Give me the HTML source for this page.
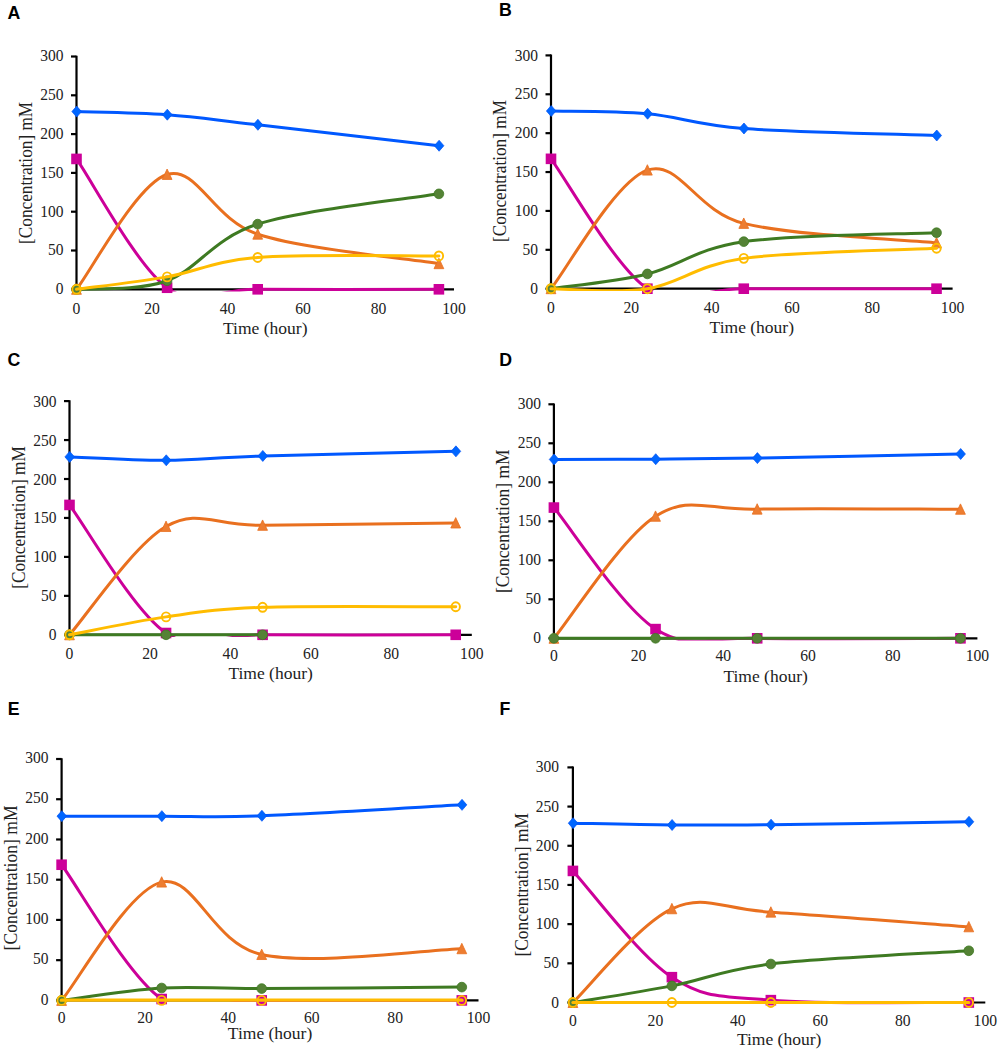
<!DOCTYPE html><html><head><meta charset="utf-8"><style>html,body{margin:0;padding:0;background:#fff;width:1000px;height:1053px;overflow:hidden}svg{display:block}.t{font-family:"Liberation Serif",serif;fill:#222}.L{font-family:"Liberation Sans",sans-serif;font-weight:bold;font-size:18.5px;fill:#000}</style></head><body>
<svg width="1000" height="1053" viewBox="0 0 1000 1053">
<g><text class="L" transform="translate(7.40,18.60) scale(0.96,1.03)">A</text><path d="M76.50,55.70 V289.30 H454.00" fill="none" stroke="#000" stroke-width="2.2"/><path d="M71.00,289.30 H76.50" stroke="#000" stroke-width="2.2"/><text class="t" font-size="16.5" text-anchor="end" transform="translate(63.50,294.20) scale(0.94,1)">0</text><path d="M71.00,250.50 H76.50" stroke="#000" stroke-width="2.2"/><text class="t" font-size="16.5" text-anchor="end" transform="translate(63.50,255.40) scale(0.94,1)">50</text><path d="M71.00,211.70 H76.50" stroke="#000" stroke-width="2.2"/><text class="t" font-size="16.5" text-anchor="end" transform="translate(63.50,216.60) scale(0.94,1)">100</text><path d="M71.00,172.90 H76.50" stroke="#000" stroke-width="2.2"/><text class="t" font-size="16.5" text-anchor="end" transform="translate(63.50,177.80) scale(0.94,1)">150</text><path d="M71.00,134.10 H76.50" stroke="#000" stroke-width="2.2"/><text class="t" font-size="16.5" text-anchor="end" transform="translate(63.50,139.00) scale(0.94,1)">200</text><path d="M71.00,95.30 H76.50" stroke="#000" stroke-width="2.2"/><text class="t" font-size="16.5" text-anchor="end" transform="translate(63.50,100.20) scale(0.94,1)">250</text><path d="M71.00,56.50 H76.50" stroke="#000" stroke-width="2.2"/><text class="t" font-size="16.5" text-anchor="end" transform="translate(63.50,61.40) scale(0.94,1)">300</text><text class="t" font-size="16.5" text-anchor="middle" transform="translate(76.50,313.50) scale(0.95,1)">0</text><text class="t" font-size="16.5" text-anchor="middle" transform="translate(152.00,313.50) scale(0.95,1)">20</text><text class="t" font-size="16.5" text-anchor="middle" transform="translate(227.50,313.50) scale(0.95,1)">40</text><text class="t" font-size="16.5" text-anchor="middle" transform="translate(303.00,313.50) scale(0.95,1)">60</text><text class="t" font-size="16.5" text-anchor="middle" transform="translate(378.50,313.50) scale(0.95,1)">80</text><text class="t" font-size="16.5" text-anchor="middle" transform="translate(454.00,313.50) scale(0.95,1)">100</text><text class="t" font-size="17.5" text-anchor="middle" x="265.25" y="334.30">Time (hour)</text><text class="t" font-size="17.5" text-anchor="middle" transform="translate(32.00,172.90) rotate(-90) scale(0.985,1.12)">[Concentration] mM</text><clipPath id="cA"><rect x="66.50" y="46.50" width="397.50" height="245.00"/></clipPath><path d="M76.50,111.60 C91.60,112.11 136.90,112.50 167.10,114.70 C197.30,116.90 212.40,119.61 257.70,124.79 C303.00,129.96 408.70,142.25 438.90,145.74" fill="none" stroke="#0058FF" stroke-width="3.0" stroke-linecap="round" clip-path="url(#cA)"/><path d="M76.70,106.10 L81.50,111.60 L76.70,117.10 L71.90,111.60 Z" fill="#0066FF" stroke="#0052F5" stroke-width="0.7" stroke-linejoin="round"/><path d="M167.30,109.20 L172.10,114.70 L167.30,120.20 L162.50,114.70 Z" fill="#0066FF" stroke="#0052F5" stroke-width="0.7" stroke-linejoin="round"/><path d="M257.90,119.29 L262.70,124.79 L257.90,130.29 L253.10,124.79 Z" fill="#0066FF" stroke="#0052F5" stroke-width="0.7" stroke-linejoin="round"/><path d="M439.10,140.24 L443.90,145.74 L439.10,151.24 L434.30,145.74 Z" fill="#0066FF" stroke="#0052F5" stroke-width="0.7" stroke-linejoin="round"/><path d="M76.50,158.93 C91.60,180.40 136.90,266.02 167.10,287.75 C197.30,309.48 212.40,289.04 257.70,289.30 C303.00,289.56 408.70,289.30 438.90,289.30" fill="none" stroke="#CC0099" stroke-width="3.0" stroke-linecap="round" clip-path="url(#cA)"/><rect x="71.20" y="153.63" width="10.6" height="10.6" fill="#CC0099"/><rect x="161.80" y="282.45" width="10.6" height="10.6" fill="#CC0099"/><rect x="252.40" y="284.00" width="10.6" height="10.6" fill="#CC0099"/><rect x="433.60" y="284.00" width="10.6" height="10.6" fill="#CC0099"/><path d="M76.50,289.30 C91.60,270.16 136.90,183.63 167.10,174.45 C197.30,165.27 212.40,219.33 257.70,234.20 C303.00,249.08 408.70,258.78 438.90,263.69" fill="none" stroke="#E9701F" stroke-width="3.0" stroke-linecap="round" clip-path="url(#cA)"/><path d="M76.50,283.90 L81.40,294.30 L71.60,294.30 Z" fill="#ED7D31" stroke="#E9701F" stroke-width="0.8" stroke-linejoin="round"/><path d="M167.10,169.05 L172.00,179.45 L162.20,179.45 Z" fill="#ED7D31" stroke="#E9701F" stroke-width="0.8" stroke-linejoin="round"/><path d="M257.70,228.80 L262.60,239.20 L252.80,239.20 Z" fill="#ED7D31" stroke="#E9701F" stroke-width="0.8" stroke-linejoin="round"/><path d="M438.90,258.29 L443.80,268.69 L434.00,268.69 Z" fill="#ED7D31" stroke="#E9701F" stroke-width="0.8" stroke-linejoin="round"/><path d="M76.50,289.30 C91.60,287.88 136.90,291.63 167.10,280.76 C197.30,269.90 212.40,238.60 257.70,224.12 C303.00,209.63 408.70,198.90 438.90,193.85" fill="none" stroke="#3E7A22" stroke-width="3.0" stroke-linecap="round" clip-path="url(#cA)"/><ellipse cx="76.50" cy="289.30" rx="4.85" ry="4.85" fill="#548235" stroke="#3E7A22" stroke-width="0.8"/><ellipse cx="167.10" cy="280.76" rx="4.85" ry="4.85" fill="#548235" stroke="#3E7A22" stroke-width="0.8"/><ellipse cx="257.70" cy="224.12" rx="4.85" ry="4.85" fill="#548235" stroke="#3E7A22" stroke-width="0.8"/><ellipse cx="438.90" cy="193.85" rx="4.85" ry="4.85" fill="#548235" stroke="#3E7A22" stroke-width="0.8"/><path d="M76.50,289.30 C91.60,287.23 136.90,282.19 167.10,276.88 C197.30,271.58 212.40,260.98 257.70,257.48 C303.00,253.99 408.70,256.19 438.90,255.93" fill="none" stroke="#FFBC00" stroke-width="3.0" stroke-linecap="round" clip-path="url(#cA)"/><ellipse cx="76.50" cy="289.30" rx="4.2" ry="4.5" fill="none" stroke="#FFBC00" stroke-width="1.9"/><ellipse cx="167.10" cy="276.88" rx="4.2" ry="4.5" fill="none" stroke="#FFBC00" stroke-width="1.9"/><ellipse cx="257.70" cy="257.48" rx="4.2" ry="4.5" fill="none" stroke="#FFBC00" stroke-width="1.9"/><ellipse cx="438.90" cy="255.93" rx="4.2" ry="4.5" fill="none" stroke="#FFBC00" stroke-width="1.9"/></g>
<g><text class="L" transform="translate(499.00,15.70) scale(0.96,1.03)">B</text><path d="M551.00,54.60 V288.70 H952.60" fill="none" stroke="#000" stroke-width="2.2"/><path d="M545.50,288.70 H551.00" stroke="#000" stroke-width="2.2"/><text class="t" font-size="16.5" text-anchor="end" transform="translate(538.00,293.90) scale(0.94,1)">0</text><path d="M545.50,249.82 H551.00" stroke="#000" stroke-width="2.2"/><text class="t" font-size="16.5" text-anchor="end" transform="translate(538.00,255.02) scale(0.94,1)">50</text><path d="M545.50,210.93 H551.00" stroke="#000" stroke-width="2.2"/><text class="t" font-size="16.5" text-anchor="end" transform="translate(538.00,216.13) scale(0.94,1)">100</text><path d="M545.50,172.05 H551.00" stroke="#000" stroke-width="2.2"/><text class="t" font-size="16.5" text-anchor="end" transform="translate(538.00,177.25) scale(0.94,1)">150</text><path d="M545.50,133.17 H551.00" stroke="#000" stroke-width="2.2"/><text class="t" font-size="16.5" text-anchor="end" transform="translate(538.00,138.37) scale(0.94,1)">200</text><path d="M545.50,94.28 H551.00" stroke="#000" stroke-width="2.2"/><text class="t" font-size="16.5" text-anchor="end" transform="translate(538.00,99.48) scale(0.94,1)">250</text><path d="M545.50,55.40 H551.00" stroke="#000" stroke-width="2.2"/><text class="t" font-size="16.5" text-anchor="end" transform="translate(538.00,60.60) scale(0.94,1)">300</text><text class="t" font-size="16.5" text-anchor="middle" transform="translate(551.00,312.90) scale(0.95,1)">0</text><text class="t" font-size="16.5" text-anchor="middle" transform="translate(631.32,312.90) scale(0.95,1)">20</text><text class="t" font-size="16.5" text-anchor="middle" transform="translate(711.64,312.90) scale(0.95,1)">40</text><text class="t" font-size="16.5" text-anchor="middle" transform="translate(791.96,312.90) scale(0.95,1)">60</text><text class="t" font-size="16.5" text-anchor="middle" transform="translate(872.28,312.90) scale(0.95,1)">80</text><text class="t" font-size="16.5" text-anchor="middle" transform="translate(952.60,312.90) scale(0.95,1)">100</text><text class="t" font-size="17.5" text-anchor="middle" x="751.80" y="332.50">Time (hour)</text><text class="t" font-size="17.5" text-anchor="middle" transform="translate(505.70,171.05) rotate(-90) scale(0.985,1.12)">[Concentration] mM</text><clipPath id="cB"><rect x="541.00" y="45.40" width="421.60" height="245.50"/></clipPath><path d="M551.00,111.00 C567.06,111.46 615.26,110.81 647.38,113.73 C679.51,116.64 695.58,124.87 743.77,128.50 C791.96,132.13 904.41,134.33 936.54,135.50" fill="none" stroke="#0058FF" stroke-width="3.0" stroke-linecap="round" clip-path="url(#cB)"/><path d="M551.20,105.50 L556.00,111.00 L551.20,116.50 L546.40,111.00 Z" fill="#0066FF" stroke="#0052F5" stroke-width="0.7" stroke-linejoin="round"/><path d="M647.58,108.23 L652.38,113.73 L647.58,119.23 L642.78,113.73 Z" fill="#0066FF" stroke="#0052F5" stroke-width="0.7" stroke-linejoin="round"/><path d="M743.97,123.00 L748.77,128.50 L743.97,134.00 L739.17,128.50 Z" fill="#0066FF" stroke="#0052F5" stroke-width="0.7" stroke-linejoin="round"/><path d="M936.74,130.00 L941.54,135.50 L936.74,141.00 L931.94,135.50 Z" fill="#0066FF" stroke="#0052F5" stroke-width="0.7" stroke-linejoin="round"/><path d="M551.00,158.83 C567.06,180.47 615.26,267.05 647.38,288.70 C679.51,310.35 695.58,288.70 743.77,288.70 C791.96,288.70 904.41,288.70 936.54,288.70" fill="none" stroke="#CC0099" stroke-width="3.0" stroke-linecap="round" clip-path="url(#cB)"/><rect x="545.70" y="153.53" width="10.6" height="10.6" fill="#CC0099"/><rect x="642.08" y="283.40" width="10.6" height="10.6" fill="#CC0099"/><rect x="738.47" y="283.40" width="10.6" height="10.6" fill="#CC0099"/><rect x="931.24" y="283.40" width="10.6" height="10.6" fill="#CC0099"/><path d="M551.00,288.70 C567.06,268.93 615.26,180.99 647.38,170.11 C679.51,159.22 695.58,211.26 743.77,223.38 C791.96,235.49 904.41,239.58 936.54,242.82" fill="none" stroke="#E9701F" stroke-width="3.0" stroke-linecap="round" clip-path="url(#cB)"/><path d="M551.00,283.30 L555.90,293.70 L546.10,293.70 Z" fill="#ED7D31" stroke="#E9701F" stroke-width="0.8" stroke-linejoin="round"/><path d="M647.38,164.71 L652.28,175.11 L642.48,175.11 Z" fill="#ED7D31" stroke="#E9701F" stroke-width="0.8" stroke-linejoin="round"/><path d="M743.77,217.98 L748.67,228.38 L738.87,228.38 Z" fill="#ED7D31" stroke="#E9701F" stroke-width="0.8" stroke-linejoin="round"/><path d="M936.54,237.42 L941.44,247.82 L931.64,247.82 Z" fill="#ED7D31" stroke="#E9701F" stroke-width="0.8" stroke-linejoin="round"/><path d="M551.00,288.70 C567.06,286.24 615.26,281.77 647.38,273.92 C679.51,266.08 695.58,248.52 743.77,241.65 C791.96,234.78 904.41,234.20 936.54,232.71" fill="none" stroke="#3E7A22" stroke-width="3.0" stroke-linecap="round" clip-path="url(#cB)"/><ellipse cx="551.00" cy="288.70" rx="4.85" ry="4.85" fill="#548235" stroke="#3E7A22" stroke-width="0.8"/><ellipse cx="647.38" cy="273.92" rx="4.85" ry="4.85" fill="#548235" stroke="#3E7A22" stroke-width="0.8"/><ellipse cx="743.77" cy="241.65" rx="4.85" ry="4.85" fill="#548235" stroke="#3E7A22" stroke-width="0.8"/><ellipse cx="936.54" cy="232.71" rx="4.85" ry="4.85" fill="#548235" stroke="#3E7A22" stroke-width="0.8"/><path d="M551.00,288.70 C567.06,288.70 615.26,293.75 647.38,288.70 C679.51,283.65 695.58,265.11 743.77,258.37 C791.96,251.63 904.41,249.95 936.54,248.26" fill="none" stroke="#FFBC00" stroke-width="3.0" stroke-linecap="round" clip-path="url(#cB)"/><ellipse cx="551.00" cy="288.70" rx="4.2" ry="4.5" fill="none" stroke="#FFBC00" stroke-width="1.9"/><ellipse cx="647.38" cy="288.70" rx="4.2" ry="4.5" fill="none" stroke="#FFBC00" stroke-width="1.9"/><ellipse cx="743.77" cy="258.37" rx="4.2" ry="4.5" fill="none" stroke="#FFBC00" stroke-width="1.9"/><ellipse cx="936.54" cy="248.26" rx="4.2" ry="4.5" fill="none" stroke="#FFBC00" stroke-width="1.9"/></g>
<g><text class="L" transform="translate(7.40,366.20) scale(0.96,1.03)">C</text><path d="M69.50,400.30 V634.80 H471.80" fill="none" stroke="#000" stroke-width="2.2"/><path d="M64.00,634.80 H69.50" stroke="#000" stroke-width="2.2"/><text class="t" font-size="16.5" text-anchor="end" transform="translate(56.50,640.30) scale(0.94,1)">0</text><path d="M64.00,595.85 H69.50" stroke="#000" stroke-width="2.2"/><text class="t" font-size="16.5" text-anchor="end" transform="translate(56.50,601.35) scale(0.94,1)">50</text><path d="M64.00,556.90 H69.50" stroke="#000" stroke-width="2.2"/><text class="t" font-size="16.5" text-anchor="end" transform="translate(56.50,562.40) scale(0.94,1)">100</text><path d="M64.00,517.95 H69.50" stroke="#000" stroke-width="2.2"/><text class="t" font-size="16.5" text-anchor="end" transform="translate(56.50,523.45) scale(0.94,1)">150</text><path d="M64.00,479.00 H69.50" stroke="#000" stroke-width="2.2"/><text class="t" font-size="16.5" text-anchor="end" transform="translate(56.50,484.50) scale(0.94,1)">200</text><path d="M64.00,440.05 H69.50" stroke="#000" stroke-width="2.2"/><text class="t" font-size="16.5" text-anchor="end" transform="translate(56.50,445.55) scale(0.94,1)">250</text><path d="M64.00,401.10 H69.50" stroke="#000" stroke-width="2.2"/><text class="t" font-size="16.5" text-anchor="end" transform="translate(56.50,406.60) scale(0.94,1)">300</text><text class="t" font-size="16.5" text-anchor="middle" transform="translate(69.50,659.00) scale(0.95,1)">0</text><text class="t" font-size="16.5" text-anchor="middle" transform="translate(149.96,659.00) scale(0.95,1)">20</text><text class="t" font-size="16.5" text-anchor="middle" transform="translate(230.42,659.00) scale(0.95,1)">40</text><text class="t" font-size="16.5" text-anchor="middle" transform="translate(310.88,659.00) scale(0.95,1)">60</text><text class="t" font-size="16.5" text-anchor="middle" transform="translate(391.34,659.00) scale(0.95,1)">80</text><text class="t" font-size="16.5" text-anchor="middle" transform="translate(471.80,659.00) scale(0.95,1)">100</text><text class="t" font-size="17.5" text-anchor="middle" x="270.65" y="678.60">Time (hour)</text><text class="t" font-size="17.5" text-anchor="middle" transform="translate(25.00,517.45) rotate(-90) scale(0.990,1.12)">[Concentration] mM</text><clipPath id="cC"><rect x="59.50" y="391.10" width="422.30" height="245.90"/></clipPath><path d="M69.50,456.88 C85.59,457.45 133.87,460.46 166.05,460.30 C198.24,460.15 214.33,457.43 262.60,455.94 C310.88,454.45 423.52,452.11 455.71,451.35" fill="none" stroke="#0058FF" stroke-width="3.0" stroke-linecap="round" clip-path="url(#cC)"/><path d="M69.70,451.38 L74.50,456.88 L69.70,462.38 L64.90,456.88 Z" fill="#0066FF" stroke="#0052F5" stroke-width="0.7" stroke-linejoin="round"/><path d="M166.25,454.80 L171.05,460.30 L166.25,465.80 L161.45,460.30 Z" fill="#0066FF" stroke="#0052F5" stroke-width="0.7" stroke-linejoin="round"/><path d="M262.80,450.44 L267.60,455.94 L262.80,461.44 L258.00,455.94 Z" fill="#0066FF" stroke="#0052F5" stroke-width="0.7" stroke-linejoin="round"/><path d="M455.91,445.85 L460.71,451.35 L455.91,456.85 L451.11,451.35 Z" fill="#0066FF" stroke="#0052F5" stroke-width="0.7" stroke-linejoin="round"/><path d="M69.50,504.94 C85.59,526.29 133.87,611.37 166.05,633.01 C198.24,654.65 214.33,634.50 262.60,634.80 C310.88,635.10 423.52,634.80 455.71,634.80" fill="none" stroke="#CC0099" stroke-width="3.0" stroke-linecap="round" clip-path="url(#cC)"/><rect x="64.20" y="499.64" width="10.6" height="10.6" fill="#CC0099"/><rect x="160.75" y="627.71" width="10.6" height="10.6" fill="#CC0099"/><rect x="257.30" y="629.50" width="10.6" height="10.6" fill="#CC0099"/><rect x="450.41" y="629.50" width="10.6" height="10.6" fill="#CC0099"/><path d="M69.50,634.80 C85.59,616.75 133.87,544.76 166.05,526.52 C198.24,508.28 214.33,525.93 262.60,525.35 C310.88,524.77 423.52,523.40 455.71,523.01" fill="none" stroke="#E9701F" stroke-width="3.0" stroke-linecap="round" clip-path="url(#cC)"/><path d="M69.50,629.40 L74.40,639.80 L64.60,639.80 Z" fill="#ED7D31" stroke="#E9701F" stroke-width="0.8" stroke-linejoin="round"/><path d="M166.05,521.12 L170.95,531.52 L161.15,531.52 Z" fill="#ED7D31" stroke="#E9701F" stroke-width="0.8" stroke-linejoin="round"/><path d="M262.60,519.95 L267.50,530.35 L257.70,530.35 Z" fill="#ED7D31" stroke="#E9701F" stroke-width="0.8" stroke-linejoin="round"/><path d="M455.71,517.61 L460.61,528.01 L450.81,528.01 Z" fill="#ED7D31" stroke="#E9701F" stroke-width="0.8" stroke-linejoin="round"/><path d="M69.50,634.80 C85.59,634.80 133.87,634.80 166.05,634.80 C198.24,634.80 246.51,634.80 262.60,634.80" fill="none" stroke="#3E7A22" stroke-width="3.0" stroke-linecap="round" clip-path="url(#cC)"/><ellipse cx="69.50" cy="634.80" rx="4.85" ry="4.85" fill="#548235" stroke="#3E7A22" stroke-width="0.8"/><ellipse cx="166.05" cy="634.80" rx="4.85" ry="4.85" fill="#548235" stroke="#3E7A22" stroke-width="0.8"/><ellipse cx="262.60" cy="634.80" rx="4.85" ry="4.85" fill="#548235" stroke="#3E7A22" stroke-width="0.8"/><path d="M69.50,634.80 C85.59,631.81 133.87,621.47 166.05,616.88 C198.24,612.30 214.33,608.99 262.60,607.30 C310.88,605.61 423.52,606.85 455.71,606.76" fill="none" stroke="#FFBC00" stroke-width="3.0" stroke-linecap="round" clip-path="url(#cC)"/><ellipse cx="69.50" cy="634.80" rx="4.2" ry="4.5" fill="none" stroke="#FFBC00" stroke-width="1.9"/><ellipse cx="166.05" cy="616.88" rx="4.2" ry="4.5" fill="none" stroke="#FFBC00" stroke-width="1.9"/><ellipse cx="262.60" cy="607.30" rx="4.2" ry="4.5" fill="none" stroke="#FFBC00" stroke-width="1.9"/><ellipse cx="455.71" cy="606.76" rx="4.2" ry="4.5" fill="none" stroke="#FFBC00" stroke-width="1.9"/></g>
<g><text class="L" transform="translate(499.20,366.20) scale(0.96,1.03)">D</text><path d="M553.90,403.50 V638.30 H977.40" fill="none" stroke="#000" stroke-width="2.2"/><path d="M548.40,638.30 H553.90" stroke="#000" stroke-width="2.2"/><text class="t" font-size="16.5" text-anchor="end" transform="translate(540.90,643.20) scale(0.94,1)">0</text><path d="M548.40,599.30 H553.90" stroke="#000" stroke-width="2.2"/><text class="t" font-size="16.5" text-anchor="end" transform="translate(540.90,604.20) scale(0.94,1)">50</text><path d="M548.40,560.30 H553.90" stroke="#000" stroke-width="2.2"/><text class="t" font-size="16.5" text-anchor="end" transform="translate(540.90,565.20) scale(0.94,1)">100</text><path d="M548.40,521.30 H553.90" stroke="#000" stroke-width="2.2"/><text class="t" font-size="16.5" text-anchor="end" transform="translate(540.90,526.20) scale(0.94,1)">150</text><path d="M548.40,482.30 H553.90" stroke="#000" stroke-width="2.2"/><text class="t" font-size="16.5" text-anchor="end" transform="translate(540.90,487.20) scale(0.94,1)">200</text><path d="M548.40,443.30 H553.90" stroke="#000" stroke-width="2.2"/><text class="t" font-size="16.5" text-anchor="end" transform="translate(540.90,448.20) scale(0.94,1)">250</text><path d="M548.40,404.30 H553.90" stroke="#000" stroke-width="2.2"/><text class="t" font-size="16.5" text-anchor="end" transform="translate(540.90,409.20) scale(0.94,1)">300</text><text class="t" font-size="16.5" text-anchor="middle" transform="translate(553.90,661.30) scale(0.95,1)">0</text><text class="t" font-size="16.5" text-anchor="middle" transform="translate(638.60,661.30) scale(0.95,1)">20</text><text class="t" font-size="16.5" text-anchor="middle" transform="translate(723.30,661.30) scale(0.95,1)">40</text><text class="t" font-size="16.5" text-anchor="middle" transform="translate(808.00,661.30) scale(0.95,1)">60</text><text class="t" font-size="16.5" text-anchor="middle" transform="translate(892.70,661.30) scale(0.95,1)">80</text><text class="t" font-size="16.5" text-anchor="middle" transform="translate(977.40,661.30) scale(0.95,1)">100</text><text class="t" font-size="17.5" text-anchor="middle" x="765.65" y="682.10">Time (hour)</text><text class="t" font-size="17.5" text-anchor="middle" transform="translate(509.40,521.30) rotate(-90) scale(0.995,1.12)">[Concentration] mM</text><clipPath id="cD"><rect x="543.90" y="394.30" width="443.50" height="246.20"/></clipPath><path d="M553.90,459.45 C570.84,459.41 621.66,459.43 655.54,459.21 C689.42,458.99 706.36,458.99 757.18,458.12 C808.00,457.25 926.58,454.68 960.46,453.99" fill="none" stroke="#0058FF" stroke-width="3.0" stroke-linecap="round" clip-path="url(#cD)"/><path d="M554.10,453.95 L558.90,459.45 L554.10,464.95 L549.30,459.45 Z" fill="#0066FF" stroke="#0052F5" stroke-width="0.7" stroke-linejoin="round"/><path d="M655.74,453.71 L660.54,459.21 L655.74,464.71 L650.94,459.21 Z" fill="#0066FF" stroke="#0052F5" stroke-width="0.7" stroke-linejoin="round"/><path d="M757.38,452.62 L762.18,458.12 L757.38,463.62 L752.58,458.12 Z" fill="#0066FF" stroke="#0052F5" stroke-width="0.7" stroke-linejoin="round"/><path d="M960.66,448.49 L965.46,453.99 L960.66,459.49 L955.86,453.99 Z" fill="#0066FF" stroke="#0052F5" stroke-width="0.7" stroke-linejoin="round"/><path d="M553.90,507.57 C570.84,527.83 621.66,607.31 655.54,629.10 C689.42,650.88 706.36,636.77 757.18,638.30 C808.00,639.83 926.58,638.30 960.46,638.30" fill="none" stroke="#CC0099" stroke-width="3.0" stroke-linecap="round" clip-path="url(#cD)"/><rect x="548.60" y="502.27" width="10.6" height="10.6" fill="#CC0099"/><rect x="650.24" y="623.80" width="10.6" height="10.6" fill="#CC0099"/><rect x="751.88" y="633.00" width="10.6" height="10.6" fill="#CC0099"/><rect x="955.16" y="633.00" width="10.6" height="10.6" fill="#CC0099"/><path d="M553.90,638.30 C570.84,617.97 621.66,537.84 655.54,516.31 C689.42,494.78 706.36,510.30 757.18,509.13 C808.00,507.96 926.58,509.26 960.46,509.29" fill="none" stroke="#E9701F" stroke-width="3.0" stroke-linecap="round" clip-path="url(#cD)"/><path d="M553.90,632.90 L558.80,643.30 L549.00,643.30 Z" fill="#ED7D31" stroke="#E9701F" stroke-width="0.8" stroke-linejoin="round"/><path d="M655.54,510.91 L660.44,521.31 L650.64,521.31 Z" fill="#ED7D31" stroke="#E9701F" stroke-width="0.8" stroke-linejoin="round"/><path d="M757.18,503.73 L762.08,514.13 L752.28,514.13 Z" fill="#ED7D31" stroke="#E9701F" stroke-width="0.8" stroke-linejoin="round"/><path d="M960.46,503.89 L965.36,514.29 L955.56,514.29 Z" fill="#ED7D31" stroke="#E9701F" stroke-width="0.8" stroke-linejoin="round"/><path d="M553.90,638.30 C570.84,638.30 621.66,638.30 655.54,638.30 C689.42,638.30 706.36,638.30 757.18,638.30 C808.00,638.30 926.58,638.30 960.46,638.30" fill="none" stroke="#3E7A22" stroke-width="3.0" stroke-linecap="round" clip-path="url(#cD)"/><ellipse cx="553.90" cy="638.30" rx="4.85" ry="4.85" fill="#548235" stroke="#3E7A22" stroke-width="0.8"/><ellipse cx="655.54" cy="638.30" rx="4.85" ry="4.85" fill="#548235" stroke="#3E7A22" stroke-width="0.8"/><ellipse cx="757.18" cy="638.30" rx="4.85" ry="4.85" fill="#548235" stroke="#3E7A22" stroke-width="0.8"/><ellipse cx="960.46" cy="638.30" rx="4.85" ry="4.85" fill="#548235" stroke="#3E7A22" stroke-width="0.8"/></g>
<g><text class="L" transform="translate(7.80,715.00) scale(0.96,1.03)">E</text><path d="M61.60,758.20 V1000.40 H478.50" fill="none" stroke="#000" stroke-width="2.2"/><path d="M56.10,1000.40 H61.60" stroke="#000" stroke-width="2.2"/><text class="t" font-size="16.5" text-anchor="end" transform="translate(48.60,1004.60) scale(0.94,1)">0</text><path d="M56.10,960.17 H61.60" stroke="#000" stroke-width="2.2"/><text class="t" font-size="16.5" text-anchor="end" transform="translate(48.60,964.37) scale(0.94,1)">50</text><path d="M56.10,919.93 H61.60" stroke="#000" stroke-width="2.2"/><text class="t" font-size="16.5" text-anchor="end" transform="translate(48.60,924.13) scale(0.94,1)">100</text><path d="M56.10,879.70 H61.60" stroke="#000" stroke-width="2.2"/><text class="t" font-size="16.5" text-anchor="end" transform="translate(48.60,883.90) scale(0.94,1)">150</text><path d="M56.10,839.47 H61.60" stroke="#000" stroke-width="2.2"/><text class="t" font-size="16.5" text-anchor="end" transform="translate(48.60,843.67) scale(0.94,1)">200</text><path d="M56.10,799.23 H61.60" stroke="#000" stroke-width="2.2"/><text class="t" font-size="16.5" text-anchor="end" transform="translate(48.60,803.43) scale(0.94,1)">250</text><path d="M56.10,759.00 H61.60" stroke="#000" stroke-width="2.2"/><text class="t" font-size="16.5" text-anchor="end" transform="translate(48.60,763.20) scale(0.94,1)">300</text><text class="t" font-size="16.5" text-anchor="middle" transform="translate(61.60,1023.40) scale(0.95,1)">0</text><text class="t" font-size="16.5" text-anchor="middle" transform="translate(144.98,1023.40) scale(0.95,1)">20</text><text class="t" font-size="16.5" text-anchor="middle" transform="translate(228.36,1023.40) scale(0.95,1)">40</text><text class="t" font-size="16.5" text-anchor="middle" transform="translate(311.74,1023.40) scale(0.95,1)">60</text><text class="t" font-size="16.5" text-anchor="middle" transform="translate(395.12,1023.40) scale(0.95,1)">80</text><text class="t" font-size="16.5" text-anchor="middle" transform="translate(478.50,1023.40) scale(0.95,1)">100</text><text class="t" font-size="17.5" text-anchor="middle" x="270.05" y="1039.00">Time (hour)</text><text class="t" font-size="17.5" text-anchor="middle" transform="translate(16.50,877.95) rotate(-90) scale(1.005,1.12)">[Concentration] mM</text><clipPath id="cE"><rect x="51.60" y="749.00" width="436.90" height="252.70"/></clipPath><path d="M61.60,816.13 C78.28,816.13 128.30,816.18 161.66,816.13 C195.01,816.08 211.68,817.69 261.71,815.81 C311.74,813.93 428.47,806.69 461.82,804.87" fill="none" stroke="#0058FF" stroke-width="3.0" stroke-linecap="round" clip-path="url(#cE)"/><path d="M61.80,810.63 L66.60,816.13 L61.80,821.63 L57.00,816.13 Z" fill="#0066FF" stroke="#0052F5" stroke-width="0.7" stroke-linejoin="round"/><path d="M161.86,810.63 L166.66,816.13 L161.86,821.63 L157.06,816.13 Z" fill="#0066FF" stroke="#0052F5" stroke-width="0.7" stroke-linejoin="round"/><path d="M261.91,810.31 L266.71,815.81 L261.91,821.31 L257.11,815.81 Z" fill="#0066FF" stroke="#0052F5" stroke-width="0.7" stroke-linejoin="round"/><path d="M462.02,799.37 L466.82,804.87 L462.02,810.37 L457.22,804.87 Z" fill="#0066FF" stroke="#0052F5" stroke-width="0.7" stroke-linejoin="round"/><path d="M61.60,864.73 C78.28,887.12 128.30,976.42 161.66,999.03 C195.01,1021.64 211.68,1000.17 261.71,1000.40 C311.74,1000.63 428.47,1000.40 461.82,1000.40" fill="none" stroke="#CC0099" stroke-width="3.0" stroke-linecap="round" clip-path="url(#cE)"/><rect x="56.30" y="859.43" width="10.6" height="10.6" fill="#CC0099"/><rect x="156.36" y="993.73" width="10.6" height="10.6" fill="#CC0099"/><rect x="256.41" y="995.10" width="10.6" height="10.6" fill="#CC0099"/><rect x="456.52" y="995.10" width="10.6" height="10.6" fill="#CC0099"/><path d="M61.60,1000.40 C78.28,980.69 128.30,889.76 161.66,882.11 C195.01,874.47 211.68,943.43 261.71,954.53 C311.74,965.64 428.47,949.71 461.82,948.74" fill="none" stroke="#E9701F" stroke-width="3.0" stroke-linecap="round" clip-path="url(#cE)"/><path d="M61.60,995.00 L66.50,1005.40 L56.70,1005.40 Z" fill="#ED7D31" stroke="#E9701F" stroke-width="0.8" stroke-linejoin="round"/><path d="M161.66,876.71 L166.56,887.11 L156.76,887.11 Z" fill="#ED7D31" stroke="#E9701F" stroke-width="0.8" stroke-linejoin="round"/><path d="M261.71,949.13 L266.61,959.53 L256.81,959.53 Z" fill="#ED7D31" stroke="#E9701F" stroke-width="0.8" stroke-linejoin="round"/><path d="M461.82,943.34 L466.72,953.74 L456.92,953.74 Z" fill="#ED7D31" stroke="#E9701F" stroke-width="0.8" stroke-linejoin="round"/><path d="M61.60,1000.40 C78.28,998.33 128.30,989.98 161.66,988.01 C195.01,986.04 211.68,988.72 261.71,988.57 C311.74,988.42 428.47,987.36 461.82,987.12" fill="none" stroke="#3E7A22" stroke-width="3.0" stroke-linecap="round" clip-path="url(#cE)"/><ellipse cx="61.60" cy="1000.40" rx="4.85" ry="4.85" fill="#548235" stroke="#3E7A22" stroke-width="0.8"/><ellipse cx="161.66" cy="988.01" rx="4.85" ry="4.85" fill="#548235" stroke="#3E7A22" stroke-width="0.8"/><ellipse cx="261.71" cy="988.57" rx="4.85" ry="4.85" fill="#548235" stroke="#3E7A22" stroke-width="0.8"/><ellipse cx="461.82" cy="987.12" rx="4.85" ry="4.85" fill="#548235" stroke="#3E7A22" stroke-width="0.8"/><path d="M61.60,1000.40 C78.28,1000.40 128.30,1000.40 161.66,1000.40 C195.01,1000.40 211.68,1000.40 261.71,1000.40 C311.74,1000.40 428.47,1000.40 461.82,1000.40" fill="none" stroke="#FFBC00" stroke-width="3.8" stroke-linecap="round" clip-path="url(#cE)"/><ellipse cx="61.60" cy="1000.40" rx="4.2" ry="4.5" fill="none" stroke="#FFBC00" stroke-width="1.9"/><ellipse cx="161.66" cy="1000.40" rx="4.2" ry="4.5" fill="none" stroke="#FFBC00" stroke-width="1.9"/><ellipse cx="261.71" cy="1000.40" rx="4.2" ry="4.5" fill="none" stroke="#FFBC00" stroke-width="1.9"/><ellipse cx="461.82" cy="1000.40" rx="4.2" ry="4.5" fill="none" stroke="#FFBC00" stroke-width="1.9"/></g>
<g><text class="L" transform="translate(499.40,715.00) scale(0.96,1.03)">F</text><path d="M572.90,766.60 V1002.50 H985.30" fill="none" stroke="#000" stroke-width="2.2"/><path d="M567.40,1002.50 H572.90" stroke="#000" stroke-width="2.2"/><text class="t" font-size="16.5" text-anchor="end" transform="translate(559.00,1007.50) scale(0.94,1)">0</text><path d="M567.40,963.32 H572.90" stroke="#000" stroke-width="2.2"/><text class="t" font-size="16.5" text-anchor="end" transform="translate(559.00,968.32) scale(0.94,1)">50</text><path d="M567.40,924.13 H572.90" stroke="#000" stroke-width="2.2"/><text class="t" font-size="16.5" text-anchor="end" transform="translate(559.00,929.13) scale(0.94,1)">100</text><path d="M567.40,884.95 H572.90" stroke="#000" stroke-width="2.2"/><text class="t" font-size="16.5" text-anchor="end" transform="translate(559.00,889.95) scale(0.94,1)">150</text><path d="M567.40,845.77 H572.90" stroke="#000" stroke-width="2.2"/><text class="t" font-size="16.5" text-anchor="end" transform="translate(559.00,850.77) scale(0.94,1)">200</text><path d="M567.40,806.58 H572.90" stroke="#000" stroke-width="2.2"/><text class="t" font-size="16.5" text-anchor="end" transform="translate(559.00,811.58) scale(0.94,1)">250</text><path d="M567.40,767.40 H572.90" stroke="#000" stroke-width="2.2"/><text class="t" font-size="16.5" text-anchor="end" transform="translate(559.00,772.40) scale(0.94,1)">300</text><text class="t" font-size="16.5" text-anchor="middle" transform="translate(572.90,1025.50) scale(0.95,1)">0</text><text class="t" font-size="16.5" text-anchor="middle" transform="translate(655.38,1025.50) scale(0.95,1)">20</text><text class="t" font-size="16.5" text-anchor="middle" transform="translate(737.86,1025.50) scale(0.95,1)">40</text><text class="t" font-size="16.5" text-anchor="middle" transform="translate(820.34,1025.50) scale(0.95,1)">60</text><text class="t" font-size="16.5" text-anchor="middle" transform="translate(902.82,1025.50) scale(0.95,1)">80</text><text class="t" font-size="16.5" text-anchor="middle" transform="translate(985.30,1025.50) scale(0.95,1)">100</text><text class="t" font-size="17.5" text-anchor="middle" x="779.10" y="1044.50">Time (hour)</text><text class="t" font-size="17.5" text-anchor="middle" transform="translate(528.10,884.80) rotate(-90) scale(0.995,1.12)">[Concentration] mM</text><clipPath id="cF"><rect x="562.90" y="757.40" width="432.40" height="247.30"/></clipPath><path d="M572.90,823.20 C589.40,823.50 638.88,824.75 671.88,825.00 C704.87,825.25 721.36,825.22 770.85,824.69 C820.34,824.15 935.81,822.27 968.80,821.79" fill="none" stroke="#0058FF" stroke-width="3.0" stroke-linecap="round" clip-path="url(#cF)"/><path d="M573.10,817.70 L577.90,823.20 L573.10,828.70 L568.30,823.20 Z" fill="#0066FF" stroke="#0052F5" stroke-width="0.7" stroke-linejoin="round"/><path d="M672.08,819.50 L676.88,825.00 L672.08,830.50 L667.28,825.00 Z" fill="#0066FF" stroke="#0052F5" stroke-width="0.7" stroke-linejoin="round"/><path d="M771.05,819.19 L775.85,824.69 L771.05,830.19 L766.25,824.69 Z" fill="#0066FF" stroke="#0052F5" stroke-width="0.7" stroke-linejoin="round"/><path d="M969.00,816.29 L973.80,821.79 L969.00,827.29 L964.20,821.79 Z" fill="#0066FF" stroke="#0052F5" stroke-width="0.7" stroke-linejoin="round"/><path d="M572.90,870.92 C589.40,888.63 638.88,955.65 671.88,977.19 C704.87,998.73 721.36,995.93 770.85,1000.15 C820.34,1004.37 935.81,1002.11 968.80,1002.50" fill="none" stroke="#CC0099" stroke-width="3.0" stroke-linecap="round" clip-path="url(#cF)"/><rect x="567.60" y="865.62" width="10.6" height="10.6" fill="#CC0099"/><rect x="666.58" y="971.89" width="10.6" height="10.6" fill="#CC0099"/><rect x="765.55" y="994.85" width="10.6" height="10.6" fill="#CC0099"/><rect x="963.50" y="997.20" width="10.6" height="10.6" fill="#CC0099"/><path d="M572.90,1002.50 C589.40,986.88 638.88,923.83 671.88,908.77 C704.87,893.71 721.36,909.14 770.85,912.14 C820.34,915.15 935.81,924.36 968.80,926.80" fill="none" stroke="#E9701F" stroke-width="3.0" stroke-linecap="round" clip-path="url(#cF)"/><path d="M572.90,997.10 L577.80,1007.50 L568.00,1007.50 Z" fill="#ED7D31" stroke="#E9701F" stroke-width="0.8" stroke-linejoin="round"/><path d="M671.88,903.37 L676.78,913.77 L666.98,913.77 Z" fill="#ED7D31" stroke="#E9701F" stroke-width="0.8" stroke-linejoin="round"/><path d="M770.85,906.74 L775.75,917.14 L765.95,917.14 Z" fill="#ED7D31" stroke="#E9701F" stroke-width="0.8" stroke-linejoin="round"/><path d="M968.80,921.40 L973.70,931.80 L963.90,931.80 Z" fill="#ED7D31" stroke="#E9701F" stroke-width="0.8" stroke-linejoin="round"/><path d="M572.90,1002.50 C589.40,999.73 638.88,992.30 671.88,985.89 C704.87,979.47 721.36,969.87 770.85,964.02 C820.34,958.17 935.81,952.99 968.80,950.78" fill="none" stroke="#3E7A22" stroke-width="3.0" stroke-linecap="round" clip-path="url(#cF)"/><ellipse cx="572.90" cy="1002.50" rx="4.85" ry="4.85" fill="#548235" stroke="#3E7A22" stroke-width="0.8"/><ellipse cx="671.88" cy="985.89" rx="4.85" ry="4.85" fill="#548235" stroke="#3E7A22" stroke-width="0.8"/><ellipse cx="770.85" cy="964.02" rx="4.85" ry="4.85" fill="#548235" stroke="#3E7A22" stroke-width="0.8"/><ellipse cx="968.80" cy="950.78" rx="4.85" ry="4.85" fill="#548235" stroke="#3E7A22" stroke-width="0.8"/><path d="M572.90,1002.50 C589.40,1002.50 638.88,1002.50 671.88,1002.50 C704.87,1002.50 721.36,1002.50 770.85,1002.50 C820.34,1002.50 935.81,1002.50 968.80,1002.50" fill="none" stroke="#FFBC00" stroke-width="3.0" stroke-linecap="round" clip-path="url(#cF)"/><ellipse cx="572.90" cy="1002.50" rx="4.2" ry="4.5" fill="none" stroke="#FFBC00" stroke-width="1.9"/><ellipse cx="671.88" cy="1002.50" rx="4.2" ry="4.5" fill="none" stroke="#FFBC00" stroke-width="1.9"/><ellipse cx="770.85" cy="1002.50" rx="4.2" ry="4.5" fill="none" stroke="#FFBC00" stroke-width="1.9"/><ellipse cx="968.80" cy="1002.50" rx="4.2" ry="4.5" fill="none" stroke="#FFBC00" stroke-width="1.9"/></g>
</svg></body></html>
